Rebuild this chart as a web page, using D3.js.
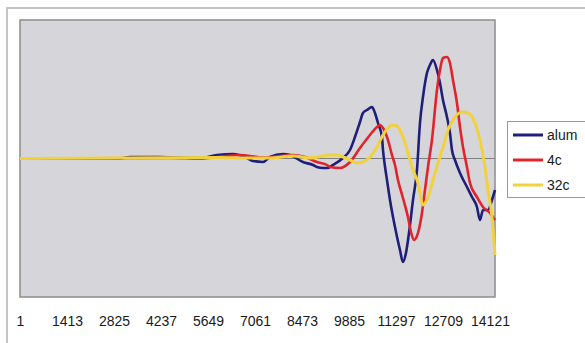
<!DOCTYPE html>
<html>
<head>
<meta charset="utf-8">
<script src="https://cdn.jsdelivr.net/npm/d3@7"></script>
<style>
  body { margin: 0; background: #fff; }
  svg { display: block; font-family: 'Liberation Sans', Arial, sans-serif; }
</style>
</head>
<body>
<svg id="chart" width="585" height="343"></svg>
<script>
// sample index, amplitude
const alum = [
  [1, 0], [3005, 0], [3300, 1.5], [4200, 1.5], [5408, 0.5], [5919, 3.5], [6400, 4.5],
  [6820, 0.5], [7000, -2.5], [7300, -3.5], [7511, 1.5], [7901, 4.5], [8112, 3.5],
  [8502, -3.5], [8803, -6.5], [8923, -8.5], [9103, -9.5], [9223, -9.5], [9404, -6.5],
  [9704, 0.5], [9914, 8.5], [10064, 21.5], [10215, 36.5], [10305, 45.5], [10425, 48.5],
  [10575, 51.5], [10665, 45.5], [10755, 35.5], [10875, 21.5], [10906, 8.5], [10966, -8],
  [11026, -21.5], [11116, -41.5], [11266, -68.5], [11416, -91.5], [11506, -103.5],
  [11596, -94.5], [11687, -74.5], [11807, -41.5], [11927, -11.5], [12017, 35.5],
  [12107, 61.5], [12227, 85.5], [12317, 93.5], [12407, 98.5], [12528, 88.5], [12618, 75.5],
  [12708, 58.5], [12828, 41.5], [12918, 25.5], [12978, 8.5], [13068, -1.5], [13219, -14.5],
  [13429, -28.5], [13579, -38.5], [13729, -48.5], [13819, -61.5], [13910, -51.5],
  [14060, -51.5], [14180, -41.5], [14270, -31.5]
];

const c4 = [
  [1, 0], [4500, 0.5], [5408, 0], [6610, 3.5], [7300, 1], [8202, 3.5], [8562, 1.5],
  [8923, -3.5], [9223, -6.5], [9313, -8.5], [9614, -9.5], [9914, -3.5], [10215, 10.5],
  [10515, 23.5], [10725, 31.5], [10815, 33.5], [10906, 30.5], [11056, 18.5], [11176, 3.5],
  [11266, -6.5], [11356, -21.5], [11506, -39.5], [11656, -58.5], [11747, -73.5],
  [11837, -81.5], [11957, -74.5], [12077, -54.5], [12167, -31.5], [12257, -8.5],
  [12377, 18.5], [12528, 68.5], [12618, 88.5], [12708, 100.5], [12828, 101.5],
  [12918, 95.5], [13008, 78.5], [13128, 55.5], [13219, 31.5], [13309, 11.5], [13429, -8.5],
  [13519, -24.5], [13729, -38.5], [13910, -48.5], [14120, -54.5], [14270, -61.5]
];

const c32 = [
  [1, 0], [6000, 1], [6700, 0.5], [7511, 0.5], [8202, 2.5], [8713, 0.5], [9313, 3.5],
  [9524, 3.5], [9704, 1.5], [9914, -1.5], [10124, -4.5], [10305, -3.5], [10515, 1.5],
  [10725, 11.5], [10906, 23.5], [11056, 30.5], [11206, 33.5], [11356, 31.5], [11506, 21.5],
  [11656, 5.5], [11807, -11.5], [11957, -24.5], [12107, -46.5], [12257, -38.5],
  [12407, -21.5], [12558, -4.5], [12708, 11.5], [12858, 28.5], [13068, 41.5], [13279, 46.5],
  [13459, 45.5], [13669, 35.5], [13819, 18.5], [13970, -8.5], [14060, -31.5],
  [14180, -58.5], [14270, -96.5]
];

const seriesNames = ['alum', '4c', '32c'];
const seriesColors = ['#1f1f7a', '#e0242c', '#f2d23c'];
const xTicks = [1, 1413, 2825, 4237, 5649, 7061, 8473, 9885, 11297, 12709, 14121];

const plot = {left: 20, top: 20, right: 495, bottom: 297};

const svg = d3.select('#chart');

// outer chart frame
svg.append('rect')
  .attr('x', 7).attr('y', 8)
  .attr('width', 620).attr('height', 360)
  .attr('fill', '#fff')
  .attr('stroke', '#c4c4c4')
  .attr('stroke-width', 2);

const x = d3.scaleLinear()
  .domain([1, 14271])
  .range([plot.left, plot.right]);

const y = d3.scaleLinear()
  .domain([-138.5, 138.5])
  .range([plot.bottom, plot.top]);

svg.append('rect')
  .attr('x', plot.left).attr('y', plot.top)
  .attr('width', plot.right - plot.left)
  .attr('height', plot.bottom - plot.top)
  .attr('fill', '#d6d6da')
  .attr('stroke', '#8c8c8c')
  .attr('stroke-width', 1.5);

// zero line
svg.append('line')
  .attr('x1', plot.left).attr('x2', plot.right)
  .attr('y1', y(0)).attr('y2', y(0))
  .attr('stroke', '#808080')
  .attr('stroke-width', 1);

const xAxis = d3.axisBottom(x)
  .tickValues(xTicks)
  .tickSize(0)
  .tickPadding(0)
  .tickFormat(d3.format('d'));

svg.append('g')
  .attr('transform', 'translate(0,316)')
  .call(xAxis)
  .call(g => g.select('.domain').remove())
  .selectAll('text')
  .attr('dy', '0.71em')
  .attr('font-size', 14)
  .attr('font-family', "'Liberation Sans', Arial, sans-serif")
  .attr('fill', '#1a1a1a');

const line = d3.line()
  .curve(d3.curveMonotoneX)
  .x(d => x(d[0]))
  .y(d => y(d[1]));

const allSeries = [alum, c4, c32];
const widths = [2.6, 2.6, 3];

allSeries.forEach((data, i) => {
  svg.append('path')
    .datum(data)
    .attr('fill', 'none')
    .attr('stroke', seriesColors[i])
    .attr('stroke-width', widths[i])
    .attr('stroke-linejoin', 'round')
    .attr('d', line);
});

// legend
const legend = svg.append('g');
legend.append('rect')
  .attr('x', 507.5).attr('y', 121.5)
  .attr('width', 78).attr('height', 76)
  .attr('fill', '#fff')
  .attr('stroke', '#9a9a9a')
  .attr('stroke-width', 1);

seriesNames.forEach((name, i) => {
  const ly = 135 + i * 25;
  legend.append('line')
    .attr('x1', 513).attr('x2', 543)
    .attr('y1', ly).attr('y2', ly)
    .attr('stroke', seriesColors[i])
    .attr('stroke-width', 3);
  legend.append('text')
    .attr('x', 547).attr('y', ly)
    .attr('dy', '0.35em')
    .attr('font-size', 14)
    .attr('fill', '#1a1a1a')
    .text(name);
});
</script>
</body>
</html>
